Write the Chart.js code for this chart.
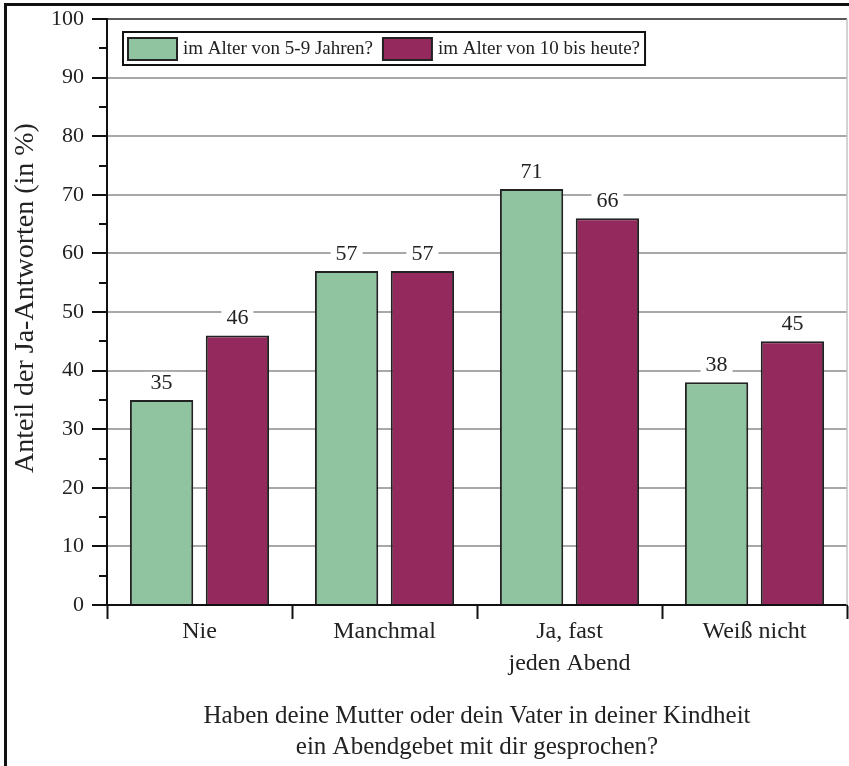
<!DOCTYPE html>
<html lang="de">
<head>
<meta charset="utf-8">
<title>Abendgebet</title>
<script src="https://cdn.jsdelivr.net/npm/chart.js@4.4.1/dist/chart.umd.min.js"></script>
<style>
  html, body { margin: 0; padding: 0; background: #fff; }
  canvas { display: block; }
</style>
</head>
<body>
<canvas id="gebet-chart" width="849" height="766"></canvas>
<script>
const categories = ["Nie", "Manchmal", ["Ja, fast", "jeden Abend"], "Weiß nicht"];
const seriesNames = ["im Alter von 5-9 Jahren?", "im Alter von 10 bis heute?"];
const youngValues = [35, 57, 71, 38];
const olderValues = [46, 57, 66, 45];
const yMin = 0;
const yMax = 100;
const yStep = 10;
const yTitle = "Anteil der Ja-Antworten (in %)";
const xTitle = [
  "Haben deine Mutter oder dein Vater in deiner Kindheit",
  "ein Abendgebet mit dir gesprochen?",
];

const serif = "'Liberation Serif', 'DejaVu Serif', serif";
Chart.defaults.font.family = serif;
Chart.defaults.color = "#222";

// Rahmen, Achsenstriche, Legende und Werte über den Balken
const extras = {
  id: "extras",
  afterDraw(chart) {
    const c = chart.ctx;
    const area = chart.chartArea;
    const y = chart.scales.y;

    c.save();
    // rechte Kante des Diagrammbereichs
    c.strokeStyle = "#c4c4c4";
    c.lineWidth = 1.5;
    c.beginPath();
    c.moveTo(area.right, area.top);
    c.lineTo(area.right, area.bottom);
    c.stroke();

    // große und kleine Striche an der y-Achse
    c.strokeStyle = "#111";
    c.lineWidth = 2;
    for (let v = yMin; v <= yMax; v += yStep / 2) {
      const py = Math.round(y.getPixelForValue(v));
      const len = v % yStep === 0 ? 15 : 8;
      c.beginPath();
      c.moveTo(area.left - len, py);
      c.lineTo(area.left, py);
      c.stroke();
    }

    // Achsentitel links
    c.fillStyle = "#222";
    c.font = "28px " + serif;
    c.textAlign = "center";
    c.textBaseline = "middle";
    c.translate(26, 298);
    c.rotate(-Math.PI / 2);
    c.fillText(yTitle, 0, 0);
    c.restore();

    // Zahlen über den Balken
    c.save();
    c.font = "22px " + serif;
    c.textAlign = "center";
    c.textBaseline = "middle";
    chart.data.datasets.forEach((ds, i) => {
      chart.getDatasetMeta(i).data.forEach((bar, j) => {
        const txt = String(ds.data[j]);
        const w = c.measureText(txt).width + 10;
        const ty = bar.y - 17;
        c.fillStyle = "#fff";
        c.fillRect(bar.x - w / 2, ty - 11, w, 22);
        c.fillStyle = "#222";
        c.fillText(txt, bar.x, ty);
      });
    });
    c.restore();

    // Legende im Diagramm
    c.save();
    c.font = "19px " + serif;
    c.textBaseline = "middle";
    const boxLeft = 123, boxTop = 32, boxH = 33;
    let x = 128;
    const items = chart.data.datasets.map((ds) => {
      const item = { x, color: ds.backgroundColor, label: ds.label };
      x += 49 + 6 + c.measureText(ds.label).width + 10;
      return item;
    });
    const boxRight = x - 10 + 5;
    c.fillStyle = "#fff";
    c.fillRect(boxLeft, boxTop, boxRight - boxLeft, boxH);
    c.strokeStyle = "#111";
    c.lineWidth = 2;
    c.strokeRect(boxLeft, boxTop, boxRight - boxLeft, boxH);
    items.forEach((it) => {
      c.fillStyle = it.color;
      c.fillRect(it.x, 38, 49, 22);
      c.strokeStyle = "#222";
      c.lineWidth = 2;
      c.strokeRect(it.x, 38, 49, 22);
      c.fillStyle = "#222";
      c.fillText(it.label, it.x + 55, boxTop + boxH / 2 + 1);
    });
    c.restore();

    // äußerer Rahmen
    c.save();
    c.fillStyle = "#111";
    c.fillRect(4, 3, chart.width - 4, 3);
    c.fillRect(4, 3, 3, chart.height - 3);
    c.restore();
  },
};

new Chart(document.getElementById("gebet-chart"), {
  type: "bar",
  data: {
    labels: categories,
    datasets: [
      {
        label: seriesNames[0],
        data: youngValues,
        backgroundColor: "#90C4A0",
        borderColor: "#222",
        borderWidth: 2,
        borderSkipped: "start",
      },
      {
        label: seriesNames[1],
        data: olderValues,
        backgroundColor: "#93295D",
        borderColor: "#222",
        borderWidth: 2,
        borderSkipped: "start",
      },
    ],
  },
  options: {
    responsive: false,
    animation: false,
    layout: { padding: { top: 19, right: 2, left: 0, bottom: 0 } },
    datasets: {
      bar: { categoryPercentage: 0.82, barPercentage: 0.835 },
    },
    plugins: {
      legend: { display: false },
      tooltip: { enabled: false },
    },
    scales: {
      x: {
        grid: {
          display: true,
          drawOnChartArea: false,
          drawTicks: true,
          offset: true,
          tickLength: 14,
          tickColor: "#111",
          tickWidth: 2,
        },
        border: { display: true, color: "#111", width: 2 },
        ticks: {
          font: { size: 24, lineHeight: 1.33 },
          color: "#222",
          padding: -3,
          maxRotation: 0,
        },
        title: {
          display: true,
          text: xTitle,
          font: { size: 25, lineHeight: 1.24 },
          color: "#222",
          padding: { top: 0, bottom: 3 },
        },
        afterFit(scale) {
          scale.height = 161;
          scale.paddingLeft = 0;
          scale.paddingRight = 0;
        },
      },
      y: {
        min: yMin,
        max: yMax,
        ticks: {
          stepSize: yStep,
          font: { size: 22 },
          color: "#222",
          padding: 23,
        },
        grid: {
          drawTicks: false,
          lineWidth: 2,
          color: (ctx) => (ctx.tick.value === yMax ? "#5a5a5a" : "#a8a8a8"),
        },
        border: { display: true, color: "#111", width: 2 },
        afterFit(scale) {
          scale.width = 107;
          scale.paddingTop = 0;
          scale.paddingBottom = 0;
        },
      },
    },
  },
  plugins: [extras],
});
</script>
</body>
</html>
